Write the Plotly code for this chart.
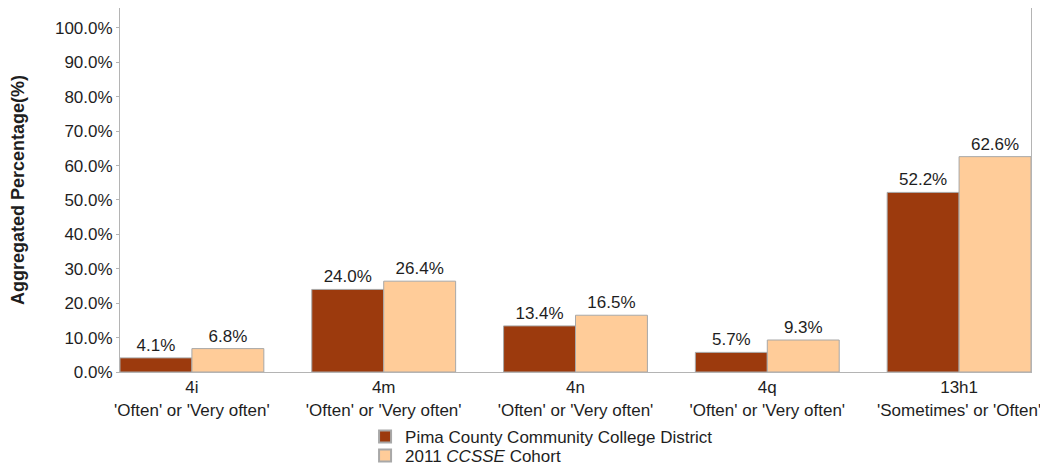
import plotly.graph_objects as go

categories = ["4i<br>'Often' or 'Very often'", "4m<br>'Often' or 'Very often'",
              "4n<br>'Often' or 'Very often'", "4q<br>'Often' or 'Very often'",
              "13h1<br>'Sometimes' or 'Often'"]
pima = [4.1, 24.0, 13.4, 5.7, 52.2]
cohort = [6.8, 26.4, 16.5, 9.3, 62.6]
series_names = ["Pima County Community College District", "2011 <i>CCSSE</i> Cohort"]
y_ticks = [0, 10, 20, 30, 40, 50, 60, 70, 80, 90, 100]

font = dict(family="Liberation Sans, Arial, sans-serif", size=17, color="#1E1E1E")

fig = go.Figure()
for name, vals, col, lg in [(series_names[0], pima, "#9C3A0D", "legend"),
                            (series_names[1], cohort, "#FFCC99", "legend2")]:
    fig.add_trace(go.Bar(
        x=categories, y=vals, name=name, legend=lg,
        marker=dict(color=col, line=dict(color="#A8A8A8", width=1)),
        text=[f"{v:.1f}%" for v in vals], textposition="outside",
        textfont=font, cliponaxis=False,
    ))

leg_common = dict(orientation="v", xanchor="left", yanchor="middle", font=font,
                  bgcolor="rgba(0,0,0,0)", itemsizing="constant")

fig.update_layout(
    width=1040, height=457,
    margin=dict(l=112, r=17, t=0, b=93, autoexpand=False),
    plot_bgcolor="white", paper_bgcolor="white",
    font=font,
    barmode="group", bargap=0.25, bargroupgap=0,
    showlegend=True,
    legend=dict(x=0.269, y=-0.1786, **leg_common),
    legend2=dict(x=0.269, y=-0.2308, **leg_common),
    xaxis=dict(range=[-0.375, 4.375], showline=True, mirror=True, linecolor="#B4B4B4",
               linewidth=1, ticks="", tickfont=font, showgrid=False, automargin=False),
    yaxis=dict(range=[0, 105.8], tickvals=y_ticks, ticktext=[f"{v:.1f}%" for v in y_ticks],
               showline=True, mirror=True, linecolor="#B4B4B4", linewidth=1,
               showgrid=False, zeroline=False, ticks="outside", ticklen=3, tickcolor="#B4B4B4",
               tickfont=font, automargin=False,
               title=dict(text="<b>Aggregated Percentage(%)</b>",
                          font=dict(family=font["family"], size=18, color="#1E1E1E"),
                          standoff=26)),
)

fig.write_html("out.html")
